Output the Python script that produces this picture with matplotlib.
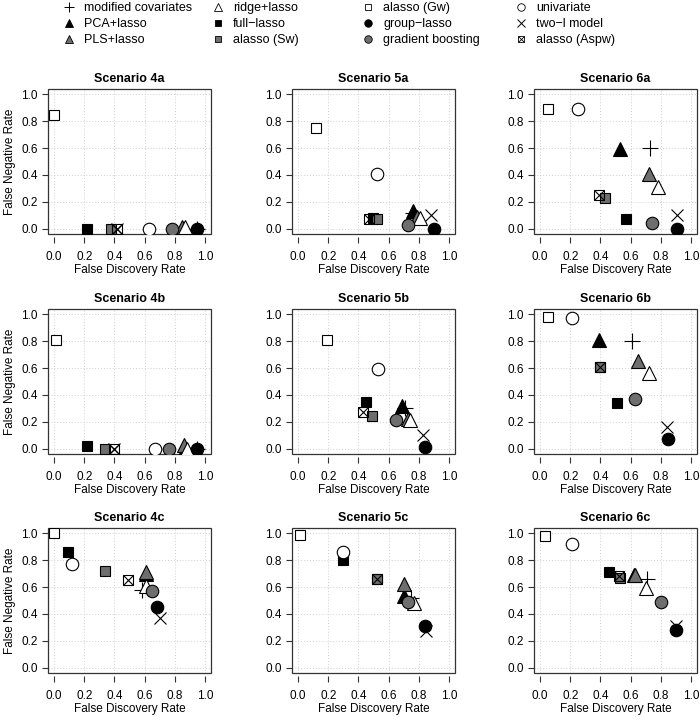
import matplotlib
matplotlib.use('Agg')
import matplotlib.pyplot as plt
from matplotlib.lines import Line2D
from matplotlib.patches import Rectangle

plt.rcParams['font.family'] = ['Liberation Sans', 'DejaVu Sans']

METHODS = ['modified covariates', 'PCA+lasso', 'PLS+lasso', 'ridge+lasso',
           'full\u2212lasso', 'alasso (Sw)', 'alasso (Gw)', 'group\u2212lasso',
           'gradient boosting', 'univariate', 'two\u2212l model', 'alasso (Aspw)']

SCENARIOS = ['4a', '5a', '6a', '4b', '5b', '6b', '4c', '5c', '6c']

# one value per method, same order as METHODS
FDR_4A = [0.95, 0.86, 0.85, 0.87, 0.22, 0.38, 0.00, 0.95, 0.78, 0.63, 0.42, 0.42]
FNR_4A = [0.00, 0.00, 0.01, 0.01, 0.00, 0.00, 0.85, 0.00, 0.00, 0.00, 0.00, 0.00]
FDR_5A = [0.76, 0.76, 0.79, 0.81, 0.50, 0.52, 0.12, 0.90, 0.73, 0.52, 0.88, 0.47]
FNR_5A = [0.12, 0.13, 0.09, 0.08, 0.08, 0.07, 0.75, 0.00, 0.03, 0.41, 0.10, 0.07]
FDR_6A = [0.73, 0.53, 0.72, 0.78, 0.57, 0.43, 0.05, 0.91, 0.74, 0.25, 0.91, 0.39]
FNR_6A = [0.60, 0.59, 0.41, 0.31, 0.07, 0.23, 0.89, 0.00, 0.04, 0.89, 0.10, 0.25]
FDR_4B = [0.95, 0.87, 0.86, 0.88, 0.22, 0.34, 0.01, 0.95, 0.76, 0.67, 0.40, 0.40]
FNR_4B = [0.00, 0.00, 0.03, 0.00, 0.02, 0.00, 0.81, 0.00, 0.00, 0.00, 0.00, 0.00]
FDR_5B = [0.71, 0.69, 0.73, 0.74, 0.45, 0.49, 0.19, 0.84, 0.65, 0.53, 0.83, 0.43]
FNR_5B = [0.30, 0.32, 0.22, 0.21, 0.35, 0.24, 0.81, 0.01, 0.21, 0.59, 0.10, 0.27]
FDR_6B = [0.61, 0.39, 0.65, 0.72, 0.51, 0.40, 0.05, 0.85, 0.63, 0.21, 0.84, 0.40]
FNR_6B = [0.80, 0.81, 0.65, 0.56, 0.34, 0.61, 0.98, 0.07, 0.37, 0.97, 0.16, 0.61]
FDR_4C = [0.58, 0.61, 0.61, 0.61, 0.09, 0.34, 0.00, 0.68, 0.65, 0.12, 0.70, 0.49]
FNR_4C = [0.58, 0.70, 0.71, 0.61, 0.86, 0.72, 1.00, 0.45, 0.57, 0.77, 0.37, 0.65]
FDR_5C = [0.75, 0.70, 0.70, 0.77, 0.30, 0.52, 0.01, 0.84, 0.73, 0.30, 0.85, 0.52]
FNR_5C = [0.52, 0.53, 0.62, 0.48, 0.80, 0.66, 0.99, 0.31, 0.49, 0.86, 0.27, 0.66]
FDR_6C = [0.71, 0.62, 0.63, 0.70, 0.46, 0.53, 0.03, 0.90, 0.80, 0.21, 0.90, 0.52]
FNR_6C = [0.66, 0.69, 0.69, 0.59, 0.71, 0.67, 0.98, 0.28, 0.49, 0.92, 0.31, 0.68]

PANELS = [(FDR_4A, FNR_4A), (FDR_5A, FNR_5A), (FDR_6A, FNR_6A),
          (FDR_4B, FNR_4B), (FDR_5B, FNR_5B), (FDR_6B, FNR_6B),
          (FDR_4C, FNR_4C), (FDR_5C, FNR_5C), (FDR_6C, FNR_6C)]

GRAY = '#6e6e6e'
LW = 0.8
# marker, size, face colour  (None -> line marker)
STYLES = [('+', 12, None), ('^', 10, 'black'), ('^', 10, GRAY), ('^', 10, 'white'),
          ('s', 7.5, 'black'), ('s', 7.5, GRAY), ('s', 7.5, 'white'),
          ('o', 9, 'black'), ('o', 9, GRAY), ('o', 9, 'white'),
          ('x', 9, None), ('aspw', 7.5, None)]


def draw_point(ax, x, y, style, scale=1.0):
    marker, ms, fc = style
    ms = ms * scale
    if marker == 'aspw':
        a = ax.plot([x], [y], ls='none', marker='s', ms=ms, mfc='none', mec='black', mew=LW)[0]
        b = ax.plot([x], [y], ls='none', marker='x', ms=ms, mec='black', mew=LW)[0]
        return (a, b)
    if fc is None:
        return ax.plot([x], [y], ls='none', marker=marker, ms=ms, mec='black', mew=LW)[0]
    return ax.plot([x], [y], ls='none', marker=marker, ms=ms, mfc=fc, mec='black', mew=LW)[0]


def legend_handle(style, scale=0.6):
    marker, ms, fc = style
    ms = ms * scale
    if marker == 'aspw':
        return (Line2D([], [], ls='none', marker='s', ms=ms, mfc='none', mec='black', mew=0.6),
                Line2D([], [], ls='none', marker='x', ms=ms, mec='black', mew=0.6))
    if fc is None:
        return Line2D([], [], ls='none', marker=marker, ms=ms, mec='black', mew=0.7)
    return Line2D([], [], ls='none', marker=marker, ms=ms, mfc=fc, mec='black', mew=0.6)


W, H = 700, 717
fig = plt.figure(figsize=(W / 100, H / 100), dpi=100)

lefts = [48, 292, 534]
bottoms = [234, 454, 673]
pw, ph = 163, 145
ticks = [0.0, 0.2, 0.4, 0.6, 0.8, 1.0]

for i, name in enumerate(SCENARIOS):
    row, col = divmod(i, 3)
    ax = fig.add_axes([lefts[col] / W, 1 - bottoms[row] / H, pw / W, ph / H])
    ax.set_xlim(-0.04, 1.04)
    ax.set_ylim(-0.04, 1.04)
    ax.set_xticks(ticks)
    ax.set_yticks(ticks)
    ax.set_xticklabels(['%.1f' % t for t in ticks])
    ax.set_yticklabels(['%.1f' % t for t in ticks])
    ax.grid(True, color='#cfcfcf', linestyle=(0, (1, 2)), linewidth=0.7)
    ax.set_axisbelow(True)
    for s in ax.spines.values():
        s.set_visible(False)
    ax.spines['bottom'].set_position(('outward', 2.5))
    ax.add_patch(Rectangle((0, 0), 1, 1, transform=ax.transAxes, fill=False,
                           ec='#333333', lw=0.9, clip_on=False, zorder=1.5))
    ax.tick_params(direction='out', length=4.5, width=0.8, color='#333333',
                   labelsize=8.5, pad=3)
    ax.tick_params(axis='x', pad=5)
    ax.set_title('Scenario ' + name, fontsize=9, fontweight='bold', pad=5)
    ax.set_xlabel('False Discovery Rate', fontsize=8.5, labelpad=1)
    if col == 0:
        ax.set_ylabel('False Negative Rate', fontsize=8.5, labelpad=4)

    fdr, fnr = PANELS[i]
    for k in range(len(METHODS)):
        draw_point(ax, fdr[k], fnr[k], STYLES[k])

# legend: four columns of three entries
col_x = [64, 213, 363, 516]
for c in range(4):
    idx = [c * 3, c * 3 + 1, c * 3 + 2]
    fig.legend([legend_handle(STYLES[k]) for k in idx], [METHODS[k] for k in idx],
               loc='upper left', bbox_to_anchor=(col_x[c] / W, 1 - 2 / H),
               frameon=False, fontsize=9, handlelength=0.8, handletextpad=0.8,
               borderpad=0, borderaxespad=0, labelspacing=0.33)

fig.savefig('out.png', dpi=100)
